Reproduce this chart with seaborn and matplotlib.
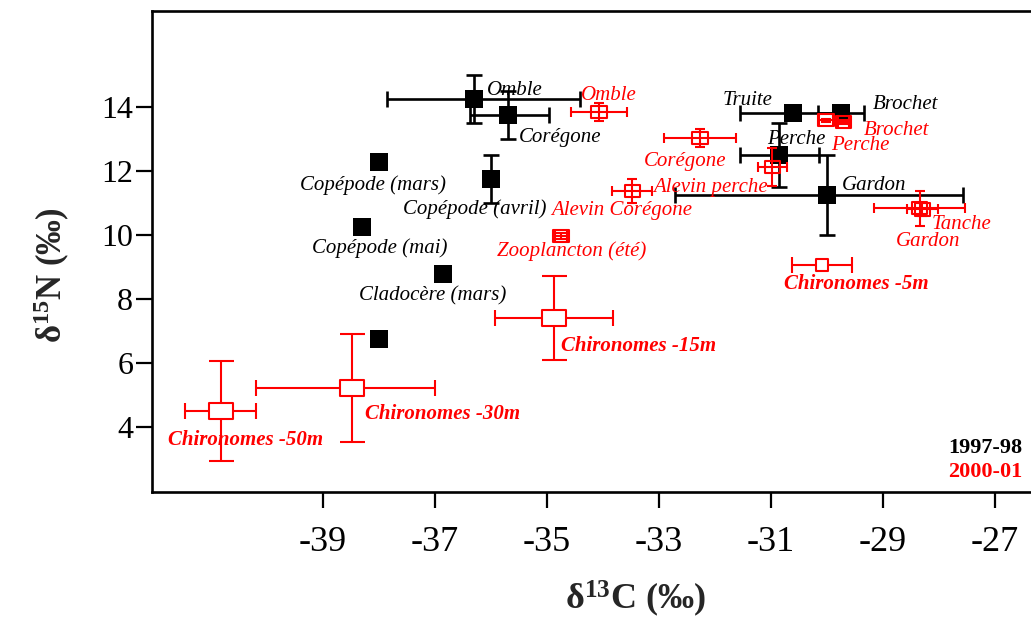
import numpy as np
import matplotlib
matplotlib.use("Agg")
import matplotlib.pyplot as plt
import seaborn as sns
from matplotlib.path import Path

# ---- 1997-98 samples (filled black squares) ----
names_97 = ["Omble", "Corégone", "Copépode (mars)", "Copépode (avril)", "Copépode (mai)",
            "Cladocère (mars)", "", "Truite", "Brochet", "Perche", "Gardon"]
c13_97 = [-36.3, -35.7, -38.0, -36.0, -38.3, -36.85, -38.0, -30.6, -29.75, -30.85, -30.0]
n15_97 = [14.25, 13.75, 12.28, 11.75, 10.25, 8.78, 6.75, 13.8, 13.8, 12.5, 11.25]
c13_lo_97 = [1.56, 0.68, 0.0, 0.0, 0.0, 0.0, 0.0, 0.95, 0.41, 0.71, 2.71]
c13_hi_97 = [1.89, 0.73, 0.0, 0.0, 0.0, 0.0, 0.0, 0.95, 0.41, 0.71, 2.43]
n15_err_97 = [0.75, 0.75, 0.0, 0.75, 0.0, 0.0, 0.0, 0.0, 0.0, 1.0, 1.25]

# ---- 2000-01 samples (open red squares) ----
names_00 = ["Omble", "Corégone", "Alevin Corégone", "Alevin perche", "Perche", "Brochet",
            "Tanche", "Gardon", "Zooplancton (été)", "Chironomes -5m", "Chironomes -15m",
            "Chironomes -30m", "Chironomes -50m"]
c13_00 = [-34.07, -32.27, -33.48, -30.98, -30.02, -29.71, -28.35, -28.3, -34.75,
          -30.09, -34.875, -38.48, -40.82]
n15_00 = [13.84, 13.03, 11.375, 12.125, 13.59, 13.53, 10.84, 10.8, 9.97,
          9.06, 7.41, 5.22, 4.5]
c13_lo_00 = [0.5, 0.64, 0.36, 0.26, 0.12, 0.1, 0.82, 0.28, 0.1, 0.53, 1.06, 1.71, 0.64]
c13_hi_00 = [0.5, 0.64, 0.36, 0.26, 0.12, 0.1, 0.82, 0.28, 0.1, 0.53, 1.06, 1.48, 0.63]
n15_err_00 = [0.28, 0.28, 0.37, 0.6, 0.05, 0.05, 0.55, 0.2, 0.1, 0.0, 1.31, 1.7, 1.56]

# axis ticks
x_ticks = [-39, -37, -35, -33, -31, -29, -27]
y_ticks = [4, 6, 8, 10, 12, 14]

# text placement for the sample names: (x, y, horizontal alignment)
label_pos_97 = [(-36.07, 14.53, "left"), (-35.5, 13.06, "left"), (-38.11, 11.56, "center"),
                (-36.29, 10.81, "center"), (-37.98, 9.59, "center"), (-37.04, 8.09, "center"),
                (0, 0, "left"), (-30.98, 14.19, "right"), (-29.18, 14.09, "left"),
                (-31.07, 13.0, "left"), (-29.73, 11.56, "left")]
label_pos_00 = [(-34.39, 14.375, "left"), (-32.54, 12.31, "center"), (-33.66, 10.78, "center"),
                (-33.11, 11.5, "left"), (-29.93, 12.81, "left"), (-29.34, 13.28, "left"),
                (-28.14, 10.34, "left"), (-28.77, 9.81, "left"), (-34.55, 9.5, "center"),
                (-29.48, 8.47, "center"), (-34.75, 6.53, "left"), (-38.25, 4.41, "left"),
                (-41.77, 3.59, "left")]

RED = "#ff0000"
SERIF = "Liberation Serif"

sns.set_theme(style="white")
plt.rcParams["font.family"] = [SERIF, "DejaVu Serif"]
plt.rcParams["mathtext.fontset"] = "custom"
plt.rcParams["mathtext.rm"] = SERIF
plt.rcParams["mathtext.bf"] = SERIF + ":bold"
plt.rcParams["mathtext.it"] = SERIF + ":italic"

fig = plt.figure(figsize=(10.31, 6.22), dpi=100)
ax = fig.add_axes([152 / 1031, 130 / 622, 879 / 1031, 481 / 622])

# rectangular open marker for the 2000-01 series
def rect_marker(aspect):
    w = 0.5
    h = 0.5 / aspect
    return Path([(-w, -h), (w, -h), (w, h), (-w, h), (-w, -h)],
                [Path.MOVETO, Path.LINETO, Path.LINETO, Path.LINETO, Path.CLOSEPOLY])

small_rect = rect_marker(1.2)
big_rect = rect_marker(1.55)

# ---- 1997-98 error bars and markers ----
for x, y, lo, hi, e in zip(c13_97, n15_97, c13_lo_97, c13_hi_97, n15_err_97):
    if lo > 0 or hi > 0:
        ax.errorbar([x], [y], xerr=[[lo], [hi]], fmt="none", ecolor="black",
                    elinewidth=1.9, capsize=5.8, capthick=1.9, zorder=2)
    if e > 0:
        ax.errorbar([x], [y], yerr=[e], fmt="none", ecolor="black",
                    elinewidth=1.9, capsize=5.8, capthick=1.9, zorder=2)

sns.scatterplot(x=c13_97, y=n15_97, marker="s", s=150, color="black",
                edgecolor="black", linewidth=0, ax=ax, zorder=3)

# ---- 2000-01 error bars and markers ----
chiro = [n.startswith("Chironomes") for n in names_00]
for x, y, lo, hi, e, big in zip(c13_00, n15_00, c13_lo_00, c13_hi_00, n15_err_00, chiro):
    cap_x = 5.5 if big else 3.6
    cap_y = 9.0 if big else 3.6
    if lo > 0 or hi > 0:
        ax.errorbar([x], [y], xerr=[[lo], [hi]], fmt="none", ecolor=RED,
                    elinewidth=1.5, capsize=cap_x, capthick=1.5, zorder=4)
    if e > 0:
        ax.errorbar([x], [y], yerr=[e], fmt="none", ecolor=RED,
                    elinewidth=1.5, capsize=cap_y, capthick=1.5, zorder=4)

small_x = [x for x, b in zip(c13_00, chiro) if not b]
small_y = [y for y, b in zip(n15_00, chiro) if not b]
sns.scatterplot(x=small_x, y=small_y, marker=small_rect, s=120, color=RED,
                facecolor="none", edgecolor=RED, linewidth=1.5, ax=ax, zorder=5)

deep_x = [x for x, n in zip(c13_00, names_00) if n.startswith("Chironomes") and n != "Chironomes -5m"]
deep_y = [y for y, n in zip(n15_00, names_00) if n.startswith("Chironomes") and n != "Chironomes -5m"]
sns.scatterplot(x=deep_x, y=deep_y, marker=big_rect, s=300, color=RED,
                facecolor="white", edgecolor=RED, linewidth=1.5, ax=ax, zorder=5)

shallow_x = [x for x, n in zip(c13_00, names_00) if n == "Chironomes -5m"]
shallow_y = [y for y, n in zip(n15_00, names_00) if n == "Chironomes -5m"]
sns.scatterplot(x=shallow_x, y=shallow_y, marker="s", s=85, color=RED,
                facecolor="white", edgecolor=RED, linewidth=1.5, ax=ax, zorder=5)

# ---- sample names ----
for name, (tx, ty, ha) in zip(names_97, label_pos_97):
    if name:
        ax.text(tx, ty, name, ha=ha, va="center", fontsize=15, style="italic",
                color="black", zorder=6)
for name, (tx, ty, ha) in zip(names_00, label_pos_00):
    bold = name.startswith("Chironomes")
    ax.text(tx, ty, name, ha=ha, va="center", fontsize=15, style="italic",
            fontweight="bold" if bold else "normal", color=RED, zorder=6)

# ---- period key ----
ax.text(-26.52, 3.34, "1997-98", ha="right", va="center", fontsize=16,
        fontweight="bold", color="black")
ax.text(-26.52, 2.59, "2000-01", ha="right", va="center", fontsize=16,
        fontweight="bold", color=RED)

# ---- axes ----
ax.set_xlim(-42.05, -26.36)
ax.set_ylim(1.97, 17.0)
ax.set_xticks(x_ticks)
ax.set_xticklabels([str(t) for t in x_ticks])
ax.set_yticks(y_ticks)
ax.set_yticklabels([str(t) for t in y_ticks])

for side in ["left", "bottom", "top"]:
    ax.spines[side].set_visible(True)
    ax.spines[side].set_color("black")
    ax.spines[side].set_linewidth(1.9)
ax.spines["right"].set_visible(False)

ax.tick_params(axis="x", which="major", bottom=True, direction="out", length=11.5,
               width=1.6, labelsize=26, pad=13, colors="black")
ax.tick_params(axis="y", which="major", left=True, direction="out", length=11.5,
               width=1.6, labelsize=23, pad=2, colors="black")

ax.set_xlabel(r"$\mathbf{\delta^{13}C}$ (‰)", fontsize=26, fontweight="bold")
ax.set_ylabel(r"$\mathbf{\delta^{15}N}$ (‰)", fontsize=25, fontweight="bold")
ax.xaxis.set_label_coords(0.55, -0.221)
ax.xaxis.label.set_va("center")
ax.yaxis.set_label_coords(-0.114, 0.45)
ax.yaxis.label.set_va("center")
ax.grid(False)

fig.savefig("out.png", dpi=100)
